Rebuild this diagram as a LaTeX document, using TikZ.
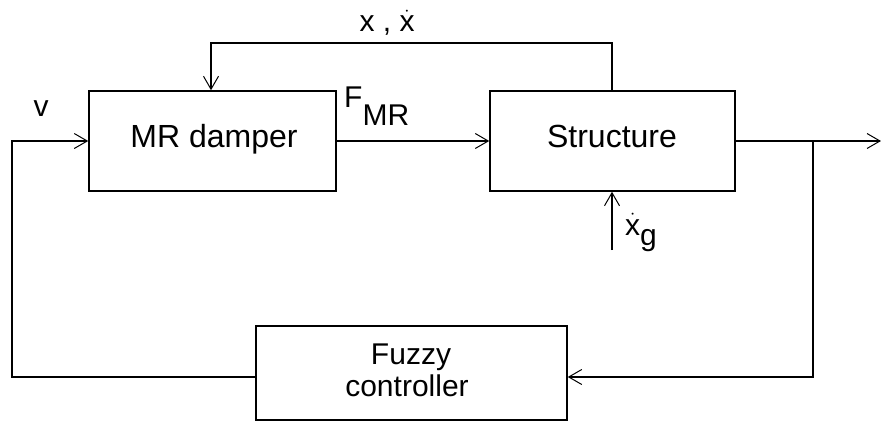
\documentclass[tikz,border=0pt]{standalone}
\usepackage{fontspec}
\setmainfont{Liberation Sans}
\usetikzlibrary{arrows.meta}
\newcommand\dotx{$\dot{\hbox{x}}$}
\begin{document}
\begin{tikzpicture}[x=1pt,y=-1pt,
  blk/.style={draw,line width=1.5pt,minimum width=#1,inner sep=0pt},
  btxt/.style={anchor=base,inner sep=0pt,font=\fontsize{32}{27}\selectfont},
  ftxt/.style={anchor=base,inner sep=0pt,font=\fontsize{30}{27}\selectfont},
  conn/.style={line width=1.3pt},
  arr/.style={conn,-{Straight Barb[length=13pt,width=15pt,line width=1pt]}},
  lbl/.style={inner sep=0pt,font=\fontsize{30}{32}\selectfont}]
\useasboundingbox (0,0) rectangle (881,428);
\node[blk=247pt,minimum height=100pt] (mr) at (212.5,141) {};
\node[btxt] (mrt) at (214,147) {MR damper};
\node[blk=245pt,minimum height=100pt] (st) at (612.5,141) {};
\node[btxt] (stt) at (612,147) {Structure};
\node[blk=311pt,minimum height=94pt] (fz) at (411.5,373) {};
\node[ftxt] (fz1) at (411,364) {Fuzzy};
\node[ftxt] (fz2) at (407,396) {controller};
\coordinate (tr) at (612,43);
\coordinate (tl) at (211,43);
\coordinate (br) at (813,377);
\coordinate (bl) at (12,377);
\coordinate (lt) at (12,141);
\coordinate (out) at (881,141);
\coordinate (g0) at (612,250);
\draw[arr] (mr.east) -- (st.west);
\draw[arr] (st.north -| tr) -- (tr) -- (tl) -- (tl |- mr.north);
\draw[arr] (st.east) -- (out);
\draw[arr] (br |- st.east) -- (br) -- (br -| fz.east);
\draw[arr] (fz.west |- bl) -- (bl) -- (lt) -- (mr.west);
\draw[arr] (g0) -- (g0 |- st.south);
\node[lbl,anchor=base] (v) at (41,117) {v};
\node[lbl,anchor=base west] (f) at (344,107) {F\raisebox{-18pt}{MR}};
\node[lbl,anchor=base] (xx) at (387,32) {x , \dotx};
\node[lbl,anchor=base west] (xg) at (625,235) {\dotx\raisebox{-10pt}{g}};
\end{tikzpicture}
\end{document}
